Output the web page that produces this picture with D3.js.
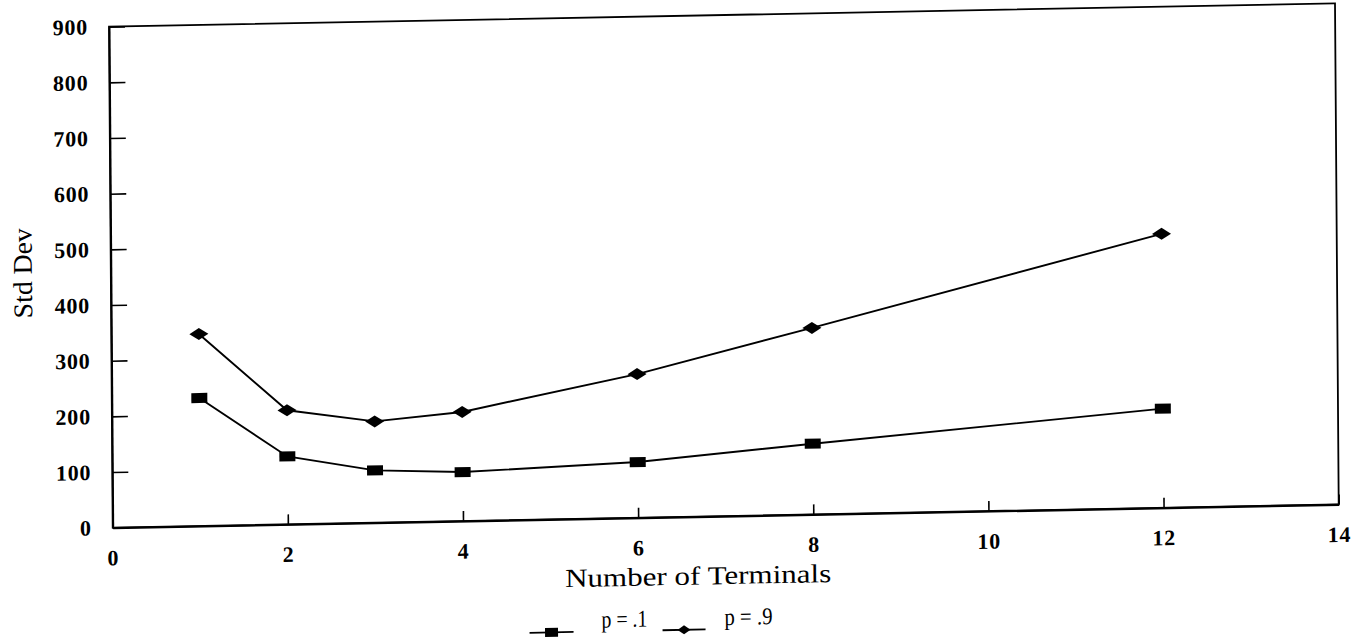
<!DOCTYPE html>
<html>
<head>
<meta charset="utf-8">
<script src="https://cdn.jsdelivr.net/npm/d3@7"></script>
<style>
  html, body { margin: 0; padding: 0; background: #fff; }
  svg { display: block; }
</style>
</head>
<body>
<svg id="chart" width="1366" height="640"></svg>
<script>
// ---- data ----
const terminals = [1, 2, 3, 4, 6, 8, 12];
const stdDevP1 = [230, 122, 94, 88, 100, 127, 178];
const stdDevP9 = [345, 205, 182, 196, 258, 335, 492];
const seriesNames = ["p = .1", "p = .9"];
const xTickValues = [0, 2, 4, 6, 8, 10, 12, 14];
const yTickValues = [0, 100, 200, 300, 400, 500, 600, 700, 800, 900];
const xTitle = "Number of Terminals";
const yTitle = "Std Dev";

// ---- layout ----
const W = 1226, H = 501;
const svg = d3.select("#chart");
svg.append("rect").attr("width", 1366).attr("height", 640).attr("fill", "#fff");

// slight skew/tilt like the scanned page
const g = svg.append("g").attr("transform", "matrix(1,-0.019,0.0074,1,109,26.7)");

const x = d3.scaleLinear().domain([0, 14]).range([0, W]);
const y = d3.scaleLinear().domain([0, 900]).range([H, 0]);

const font = "'Liberation Serif', 'Times New Roman', serif";

// frame
g.append("rect").attr("x", 0).attr("y", 0).attr("width", W).attr("height", H)
  .attr("fill", "none").attr("stroke", "#000").attr("stroke-width", 1.8);

// axes
const yAxis = d3.axisLeft(y).tickValues(yTickValues).tickSize(-16).tickSizeOuter(0).tickPadding(21)
  .tickFormat(d3.format("d"));
const gy = g.append("g").call(yAxis);
gy.select(".domain").attr("stroke-width", 2);
gy.selectAll(".tick line").attr("stroke-width", 1.6);
gy.selectAll(".tick text").attr("font-family", font).attr("font-size", 22).attr("font-weight", "bold")
  .attr("fill", "#000").attr("letter-spacing", "0.8px");

const xAxis = d3.axisBottom(x).tickValues(xTickValues).tickSize(-10).tickSizeOuter(0).tickPadding(22)
  .tickFormat(d3.format("d"));
const gx = g.append("g").attr("transform", `translate(0,${H})`).call(xAxis);
gx.select(".domain").attr("stroke-width", 2.2);
gx.selectAll(".tick line").attr("stroke-width", 1.6);
gx.selectAll(".tick text").attr("font-family", font).attr("font-size", 22).attr("font-weight", "bold")
  .attr("fill", "#000").attr("letter-spacing", "0.8px");

// titles
g.append("text").attr("x", 585).attr("y", H + 68)
  .attr("text-anchor", "middle").attr("font-family", font).attr("font-size", 26)
  .attr("textLength", 266).attr("lengthAdjust", "spacingAndGlyphs")
  .text(xTitle);

g.append("text").attr("transform", "translate(-88,245) rotate(-90)")
  .attr("text-anchor", "middle").attr("dominant-baseline", "central")
  .attr("font-family", font).attr("font-size", 27)
  .attr("textLength", 90).attr("lengthAdjust", "spacingAndGlyphs")
  .text(yTitle);

// series
const series = [
  { name: seriesNames[0], values: stdDevP1, marker: "square" },
  { name: seriesNames[1], values: stdDevP9, marker: "diamond" }
];
const line = d3.line().x(d => x(d[0])).y(d => y(d[1]));

function drawMarker(sel, type, w, h) {
  if (type === "square") {
    sel.append("rect").attr("x", -w / 2).attr("y", -h / 2).attr("width", w).attr("height", h).attr("fill", "#000");
  } else {
    sel.append("path").attr("d", `M${-w / 2},0L0,${-h / 2}L${w / 2},0L0,${h / 2}Z`).attr("fill", "#000");
  }
}

series.forEach(s => {
  const pts = terminals.map((t, i) => [t, s.values[i]]);
  g.append("path").datum(pts).attr("d", line).attr("fill", "none")
    .attr("stroke", "#000").attr("stroke-width", 1.9);
  pts.forEach(p => {
    const m = g.append("g").attr("transform", `translate(${x(p[0])},${y(p[1])})`);
    drawMarker(m, s.marker, s.marker === "square" ? 16 : 19, s.marker === "square" ? 10 : 12);
  });
});

// legend
const legend = g.append("g").attr("transform", `translate(0,${H})`);
const legItems = [
  { name: seriesNames[0], marker: "square", x0: 416, x1: 460, tx: 488, tl: 46 },
  { name: seriesNames[1], marker: "diamond", x0: 549, x1: 592, tx: 611, tl: 48 }
];
legItems.forEach(it => {
  legend.append("line").attr("x1", it.x0).attr("x2", it.x1).attr("y1", 113).attr("y2", 113)
    .attr("stroke", "#000").attr("stroke-width", 1.8);
  const m = legend.append("g").attr("transform", `translate(${(it.x0 + it.x1) / 2},113)`);
  drawMarker(m, it.marker, 13, 9);
  legend.append("text").attr("x", it.tx).attr("y", 109)
    .attr("font-family", font).attr("font-size", 24)
    .attr("textLength", it.tl).attr("lengthAdjust", "spacingAndGlyphs")
    .text(it.name);
});
</script>
</body>
</html>
